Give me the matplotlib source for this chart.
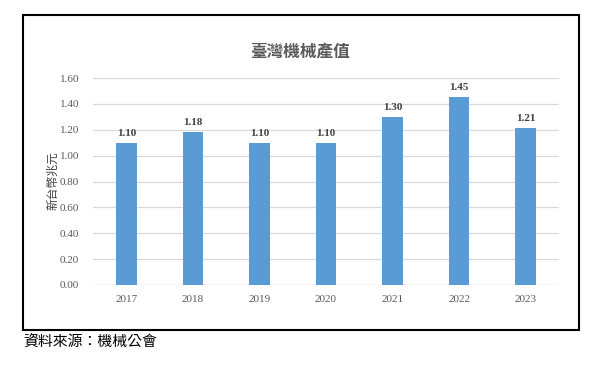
import matplotlib
matplotlib.use("Agg")
import matplotlib.pyplot as plt
import matplotlib.patches as mpatches
import numpy as np

years = ["2017", "2018", "2019", "2020", "2021", "2022", "2023"]
values = [1.10, 1.18, 1.10, 1.10, 1.30, 1.45, 1.21]
yticks = [0.0, 0.2, 0.4, 0.6, 0.8, 1.0, 1.2, 1.4, 1.6]

W, H = 601, 366
fig = plt.figure(figsize=(W / 100, H / 100), dpi=100, facecolor="white")

# outer frame
frame = mpatches.Rectangle((23 / W, 1 - 330 / H), (579 - 23) / W, (330 - 15) / H,
                           transform=fig.transFigure, fill=False,
                           edgecolor="black", linewidth=1.5)
fig.patches.append(frame)

ax = fig.add_axes([93 / W, 1 - 285 / H, (559 - 93) / W, (285 - 78) / H])
x = np.arange(len(years))
ax.bar(x, values, width=0.31, color="#5b9bd5", zorder=3)
ax.set_xlim(-0.5, len(years) - 0.5)
ax.set_ylim(0, 1.6)
ax.set_yticks(yticks)
ax.set_yticklabels([f"{v:.2f}" for v in yticks], family="Liberation Serif",
                   fontsize=8, color="#595959")
ax.set_xticks(x)
ax.set_xticklabels(years, family="Liberation Serif", fontsize=8, color="#595959")
ax.tick_params(length=0, pad=10)
ax.tick_params(axis="x", pad=7)
ax.grid(axis="y", color="#d9d9d9", linewidth=0.9, zorder=0)
for s in ax.spines.values():
    s.set_visible(False)
ax.axhline(0, color="#d9d9d9", linewidth=0.9, zorder=1)

for xi, v in zip(x, values):
    ax.text(xi, v + 0.04, f"{v:.2f}", ha="center", va="bottom",
            family="Liberation Serif", fontweight="bold", fontsize=8, color="#404040")

fig.text(300 / W, 1 - 52 / H, "臺灣機械產值", ha="center", va="center",
         family=["Noto Sans CJK TC", "DejaVu Sans"], fontweight="bold",
         fontsize=12, color="#595959")
fig.text(53 / W, 1 - 181 / H, "新台幣兆元", ha="center", va="center", rotation=90,
         family=["Noto Sans CJK TC", "DejaVu Sans"], fontsize=8.5, color="#404040")

fig.text(23 / W, 1 - 343 / H, "資料來源：機械公會", ha="left", va="center",
         family=["Noto Sans CJK TC", "DejaVu Sans"], fontsize=10.7, color="black")

fig.savefig("out.png", dpi=100, facecolor="white")
